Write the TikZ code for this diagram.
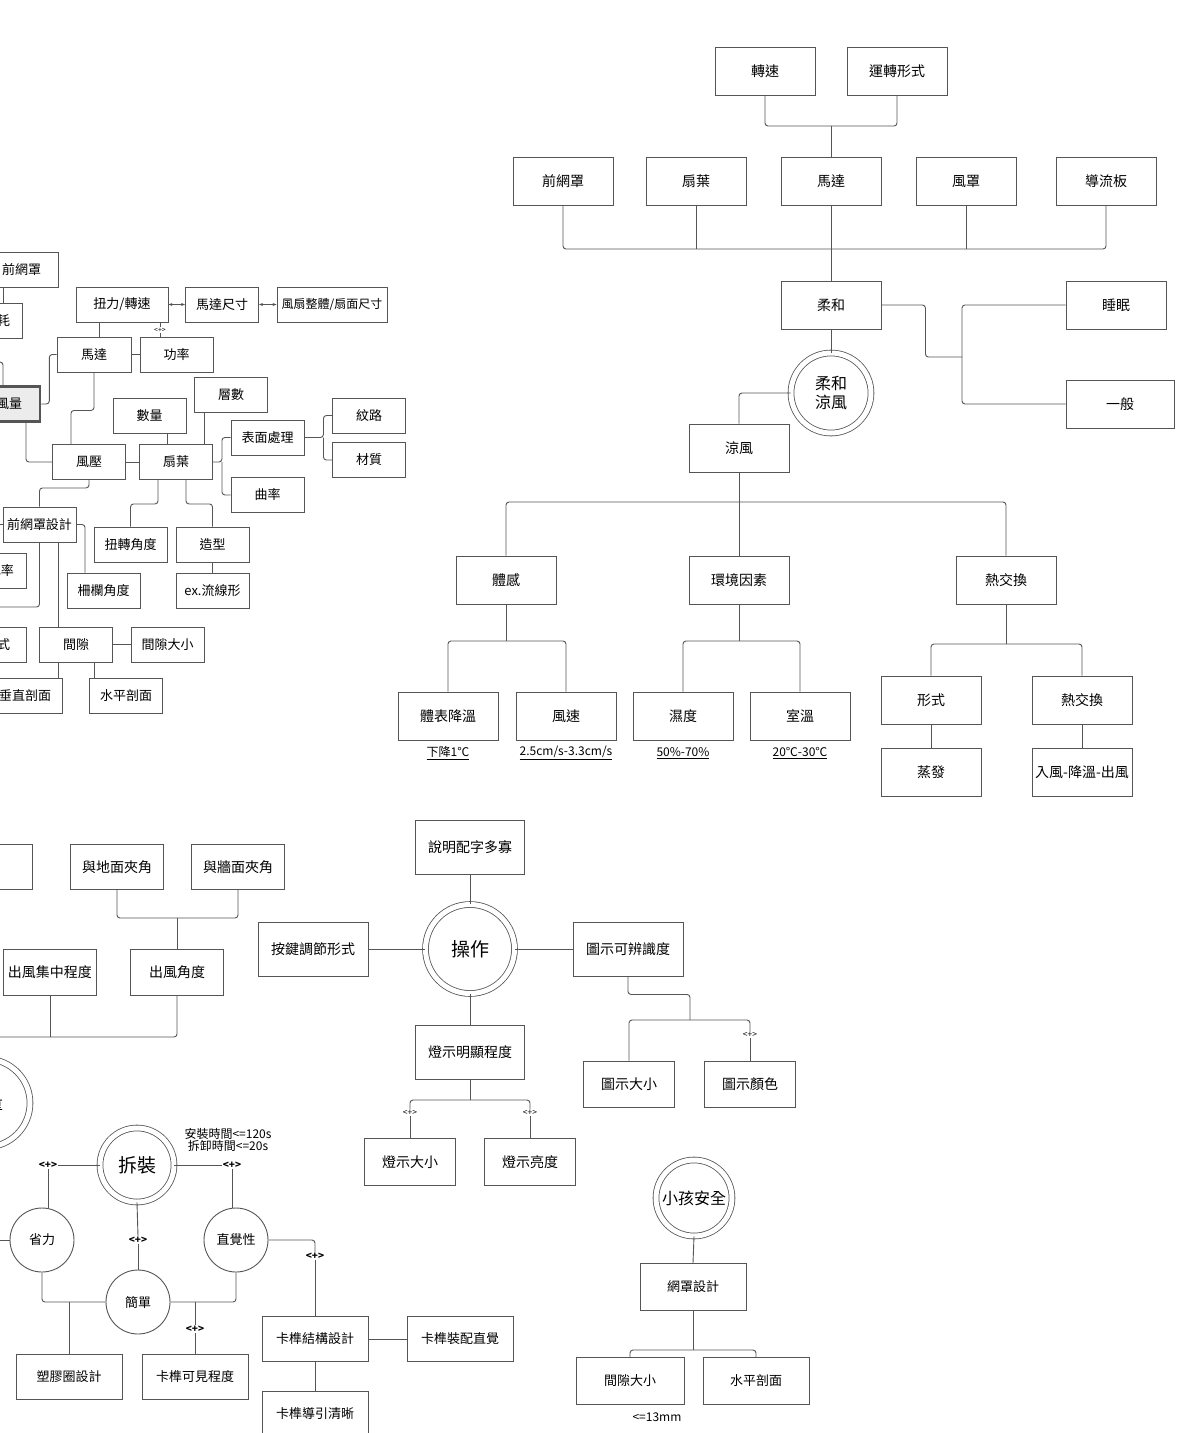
\documentclass[tikz,border=0pt]{standalone}
\usepackage{fontspec}
\setmainfont{Noto Sans CJK TC}
\usepackage{tikz}
\usetikzlibrary{arrows.meta}
\definecolor{linegray}{RGB}{85,85,85}
\definecolor{boxgray}{RGB}{236,236,236}

\begin{document}
\begin{tikzpicture}[x=1pt, y=-1pt,
    box/.style={draw=linegray, line width=0.9pt, fill=white, minimum width=100pt, minimum height=48pt, inner sep=1pt, font=\fontsize{14}{16}\selectfont},
    sbox/.style={box, minimum width=73pt, minimum height=35pt, font=\fontsize{13}{15}\selectfont},
    ring/.style={circle, draw=linegray, line width=0.8pt, double=white, double distance=5pt, inner sep=0pt, align=center},
    bub/.style={circle, draw=linegray, line width=0.9pt, fill=white, minimum size=64pt, inner sep=0pt, font=\fontsize{13}{15}\selectfont},
    link/.style={draw=linegray, line width=0.9pt, rounded corners=3pt},
    both/.style={link, {Stealth[length=4pt,width=3pt]}-{Stealth[length=4pt,width=3pt]}},
    plus/.style={inner sep=0.5pt, font=\fontsize{8.5}{9}\selectfont},
    bplus/.style={inner sep=0.5pt, font=\bfseries\fontsize{10}{11}\selectfont},
    note/.style={inner sep=1pt, font=\fontsize{12}{14}\selectfont}]
    \useasboundingbox (0,0) rectangle (1182,1433);
    \clip (0,0) rectangle (1182,1433);
    \fill[white] (0,0) rectangle (1182,1433);

    % Motor tree
    \node[box] (zs) at (765,71) {轉速};
    \node[box] (yx) at (897,71) {運轉形式};
    \node[box] (qw) at (563,181) {前網罩};
    \node[box] (sy) at (696,181) {扇葉};
    \node[box] (md) at (831,181) {馬達};
    \node[box] (fz) at (966,181) {風罩};
    \node[box] (dl) at (1106,181) {導流板};
    \coordinate (b1) at (831,126);
    \coordinate (b2) at (831,249);
    \draw[link] (zs.south) |- (b1) -| (yx.south);
    \draw[link] (b1) -- (md.north);
    \draw[link] (qw.south) |- (b2) -| (dl.south);
    \draw[link] (sy.south) -- (sy.south |- b2);
    \draw[link] (fz.south) -- (fz.south |- b2);

    % Soft wind
    \node[box] (rh) at (831,305) {柔和};
    \node[box] (sm) at (1116,305) {睡眠};
    \node[box, minimum width=108pt] (yb) at (1120,404) {一般};
    \node[ring, minimum size=80pt, font=\fontsize{16}{19}\selectfont] (rl) at (831,393) {柔和\\涼風};
    \node[box] (lf) at (739,448) {涼風};
    \coordinate (j1) at (962,357);
    \draw[link] (md.south) -- (rh.north);
    \draw[link] (rh.east) -- ++(44,0) |- (j1);
    \draw[link] (sm.west) -| (j1) |- (yb.west);
    \draw[link] (rh.south) -- (rl.north);
    \draw[link] (rl.west) -| (lf.north);

    \node[box] (tg) at (506,580) {體感};
    \node[box] (hj) at (739,580) {環境因素};
    \node[box] (rj) at (1006,580) {熱交換};
    \coordinate (b3) at (739,502);
    \draw[link] (lf.south) -- (hj.north);
    \draw[link] (tg.north) |- (b3) -| (rj.north);

    \node[box] (tb) at (448,716) {體表降溫};
    \node[box] (fs) at (566,716) {風速};
    \node[box] (sd) at (683,716) {濕度};
    \node[box] (sw) at (800,716) {室溫};
    \node[box] (xs) at (931,700) {形式};
    \node[box] (rj2) at (1082,700) {熱交換};
    \node[box] (zf) at (931,772) {蒸發};
    \node[box] (rf) at (1082,772) {入風-降溫-出風};
    \coordinate (b4) at (506,641);
    \coordinate (b5) at (739,641);
    \coordinate (b6) at (1006,644);
    \draw[link] (tg.south) -- (b4);
    \draw[link] (tb.north) |- (b4) -| (fs.north);
    \draw[link] (hj.south) -- (b5);
    \draw[link] (sd.north) |- (b5) -| (sw.north);
    \draw[link] (rj.south) -- (b6);
    \draw[link] (xs.north) |- (b6) -| (rj2.north);
    \draw[link] (xs.south) -- (zf.north);
    \draw[link] (rj2.south) -- (rf.north);

    \node[note] (v1) at (448,753) {\underline{下降1℃}};
    \node[note] (v2) at (566,753) {\underline{2.5cm/s-3.3cm/s}};
    \node[note] (v3) at (683,753) {\underline{50\%-70\%}};
    \node[note] (v4) at (800,753) {\underline{20℃-30℃}};

    % Operation
    \node[ring, minimum size=89pt, font=\fontsize{19}{21}\selectfont] (cz) at (470,949) {操作};
    \node[box, minimum width=109pt, minimum height=54pt] (sm2) at (470,847) {說明配字多寡};
    \node[box, minimum width=110pt, minimum height=54pt] (aj) at (313,949) {按鍵調節形式};
    \node[box, minimum width=110pt, minimum height=54pt] (tk) at (628,949) {圖示可辨識度};
    \node[box, minimum width=109pt, minimum height=54pt] (ds) at (470,1052) {燈示明顯程度};
    \node[box, minimum width=91pt, minimum height=47pt] (dx) at (410,1162) {燈示大小};
    \node[box, minimum width=91pt, minimum height=47pt] (dl2) at (530,1162) {燈示亮度};
    \node[plus] (p1) at (410,1113) {<+>};
    \node[plus] (p2) at (530,1113) {<+>};
    \coordinate (b7) at (470,1100);
    \draw[link] (sm2.south) -- (cz.north);
    \draw[link] (aj.east) -- (cz.west);
    \draw[link] (cz.east) -- (tk.west);
    \draw[link] (cz.south) -- (ds.north);
    \draw[link] (ds.south) -- (b7);
    \draw[link] (p1.north) |- (b7) -| (p2.north);
    \draw[link] (p1.south) -- (dx.north);
    \draw[link] (p2.south) -- (dl2.north);

    \node[box, minimum width=91pt, minimum height=46pt] (tx) at (629,1084) {圖示大小};
    \node[box, minimum width=91pt, minimum height=46pt] (ty) at (750,1084) {圖示顏色};
    \node[plus] (p3) at (750,1035) {<+>};
    \coordinate (b8) at (690,1020);
    \draw[link] (tk.south) -- ++(0,18) -| (b8);
    \draw[link] (tx.north) |- (b8) -| (p3.north);
    \draw[link] (p3.south) -- (ty.north);

    % Child safety
    \node[ring, minimum size=76pt, font=\fontsize{16}{18}\selectfont] (xh) at (694,1198) {小孩安全};
    \node[box, minimum width=106pt, minimum height=47pt, font=\fontsize{13}{15}\selectfont] (wz) at (693,1287) {網罩設計};
    \node[box, minimum width=108pt, minimum height=47pt, font=\fontsize{13}{15}\selectfont] (jx) at (630,1381) {間隙大小};
    \node[box, minimum width=106pt, minimum height=47pt, font=\fontsize{13}{15}\selectfont] (sp) at (756,1381) {水平剖面};
    \node[note] (mm) at (657,1417) {<=13mm};
    \coordinate (b9) at (693,1350);
    \draw[link] (xh.south) -- (wz.north);
    \draw[link] (wz.south) -- (b9);
    \draw[link] (jx.north) |- (b9) -| (sp.north);

    % Outlet angle
    \node[box, minimum width=102pt, minimum height=45pt] (k0) at (-19,867) {};
    \node[box, minimum width=93pt, minimum height=45pt] (dm) at (117,867) {與地面夾角};
    \node[box, minimum width=93pt, minimum height=45pt] (qm) at (238,867) {與牆面夾角};
    \node[box, minimum width=93pt, minimum height=46pt] (jz) at (50,972) {出風集中程度};
    \node[box, minimum width=93pt, minimum height=46pt] (cf) at (177,972) {出風角度};
    \node[ring, minimum size=88pt, font=\fontsize{18}{20}\selectfont] (fl) at (-14,1103) {風量};
    \coordinate (b10) at (177,918);
    \coordinate (b11) at (-10,1037);
    \draw[link] (dm.south) |- (b10) -| (qm.south);
    \draw[link] (b10) -- (cf.north);
    \draw[link] (cf.south) |- (b11);
    \draw[link] (jz.south) -- (jz.south |- b11);

    % Assembly
    \node[ring, minimum size=74pt, font=\fontsize{19}{21}\selectfont] (cj) at (137,1165) {拆裝};
    \node[note, align=center] (az) at (228,1140) {安裝時間<=120s\\[-2pt]拆卸時間<=20s};
    \node[bub] (sl) at (42,1240) {省力};
    \node[bub] (zj) at (236,1240) {直覺性};
    \node[bub] (jd) at (138,1302) {簡單};
    \node[bplus] (q1) at (48,1165) {<+>};
    \node[bplus] (q2) at (232,1165) {<+>};
    \node[bplus] (q3) at (138,1240) {<+>};
    \node[bplus] (q4) at (195,1329) {<+>};
    \node[bplus] (q5) at (315,1256) {<+>};
    \node[box, minimum width=106pt, minimum height=45pt, font=\fontsize{13}{15}\selectfont] (sj) at (69,1377) {塑膠圈設計};
    \node[box, minimum width=106pt, minimum height=45pt, font=\fontsize{13}{15}\selectfont] (kk) at (195,1377) {卡榫可見程度};
    \node[box, minimum width=106pt, minimum height=45pt, font=\fontsize{13}{15}\selectfont] (kg) at (315,1339) {卡榫結構設計};
    \node[box, minimum width=106pt, minimum height=45pt, font=\fontsize{13}{15}\selectfont] (kp) at (460,1339) {卡榫裝配直覺};
    \node[box, minimum width=106pt, minimum height=45pt, font=\fontsize{13}{15}\selectfont] (ky) at (315,1414) {卡榫導引清晰};
    \coordinate (sl0) at (-5,1240);
    \draw[link] (cj.west) -- (q1.east);
    \draw[link] (q1.south) -- (q1.south |- sl.north);
    \draw[link] (cj.east) -- (q2.west);
    \draw[link] (q2.south) -- (q2.south |- zj.north);
    \draw[link] (cj.south) -- (q3.north);
    \draw[link] (q3.south) -- (jd.north);
    \draw[link] (sl.south) |- (jd.west);
    \draw[link] (zj.south) |- (jd.east);
    \draw[link] (sj.north) -- (sj.north |- jd.west);
    \draw[link] (q4.north) -- (q4.north |- jd.east);
    \draw[link] (q4.south) -- (kk.north);
    \draw[link] (zj.east) -| (q5.north);
    \draw[link] (q5.south) -- (kg.north);
    \draw[link] (kg.east) -- (kp.west);
    \draw[link] (kg.south) -- (ky.north);
    \draw[link] (sl.west) -- (sl0);

    % Air volume
    \node[sbox] (qw2) at (21.5,269.5) {前網罩};
    \node[sbox, minimum width=50pt] (nh) at (-3,321) {能耗};
    \node[sbox, minimum width=62pt, fill=boxgray, line width=2.6pt] (fl2) at (9,404) {風量};
    \node[sbox, minimum width=92pt] (nz) at (122,304.5) {扭力/轉速};
    \node[sbox] (mc) at (222,304.5) {馬達尺寸};
    \node[sbox, minimum width=110pt, font=\fontsize{12}{14}\selectfont] (ft) at (332,304.5) {風扇整體/扇面尺寸};
    \node[sbox, minimum width=74pt] (md2) at (94,354.5) {馬達};
    \node[sbox] (gl) at (176.5,354.5) {功率};
    \node[plus, font=\fontsize{7}{7}\selectfont] (p4) at (160,330) {<+>};
    \node[sbox] (fy) at (89,462) {風壓};
    \node[sbox] (sy2) at (176,462) {扇葉};
    \node[sbox] (sl2) at (149.5,415.5) {數量};
    \node[sbox] (cs) at (231,395) {層數};
    \node[sbox] (bm) at (267.5,437.5) {表面處理};
    \node[sbox] (wl) at (369,415.5) {紋路};
    \node[sbox] (cz2) at (369,460) {材質};
    \node[sbox] (ql) at (267.5,495) {曲率};
    \node[sbox] (qs) at (39.5,524.5) {前網罩設計};
    \node[sbox] (nj) at (130.5,544.5) {扭轉角度};
    \node[sbox] (zx) at (212.5,544.5) {造型};
    \node[sbox] (zl) at (103.5,590.5) {柵欄角度};
    \node[sbox] (lx) at (212.5,590.5) {ex.流線形};
    \node[sbox, minimum width=63pt] (kl) at (-5.5,570.5) {開孔率};
    \node[sbox, minimum width=58pt] (xs2) at (-3,644.5) {形式};
    \node[sbox] (jx2) at (76,644.5) {間隙};
    \node[sbox] (jd2) at (167.5,644.5) {間隙大小};
    \node[sbox, minimum width=74pt] (cz3) at (25,695.5) {垂直剖面};
    \node[sbox] (sp2) at (126,695.5) {水平剖面};
    \coordinate (u1) at (-10,362);
    \coordinate (u2) at (-5,524.5);
    \coordinate (u3) at (-5,607);
    \draw[link] ([xshift=-18.5pt]qw2.south) -- ([xshift=6pt]nh.north);
    \draw[link] (u1) -| ([xshift=-6pt]fl2.north);
    \draw[link] (fl2.east) -- ++(8,0) |- (md2.west);
    \draw[link] ([xshift=-23pt]nz.south) -- ([xshift=5pt]md2.north);
    \draw[both] (nz.east) -- (mc.west);
    \draw[both] (mc.east) -- (ft.west);
    \draw[link] ([xshift=38pt]nz.south) -- (p4.north);
    \draw[link] (p4.south) -- (p4.south |- gl.north);
    \draw[link] (md2.east) -- (gl.west);
    \draw[link] (md2.south) -- ++(0,38) -| ([xshift=-18pt]fy.north);
    \draw[link] ([xshift=17pt]fl2.south) |- (fy.west);
    \draw[link] (fy.east) -- (sy2.west);
    \draw[link] ([xshift=17.5pt]sl2.south) -- ([xshift=-9pt]sy2.north);
    \draw[link] ([xshift=-27pt]cs.south) -- ([xshift=28pt]sy2.north);
    \draw[link] (sy2.east) -- ++(9,0) |- (bm.west);
    \draw[link] ([xshift=9pt]sy2.east) |- (ql.west);
    \draw[link] (bm.east) -- ++(19,0) |- (wl.west);
    \draw[link] ([xshift=19pt]bm.east) |- (cz2.west);
    \draw[link] (fy.south) -- ++(0,8) -| (qs.north);
    \draw[link] ([xshift=-18pt]sy2.south) -- ++(0,24) -| (nj.north);
    \draw[link] ([xshift=10pt]sy2.south) -- ++(0,24) -| (zx.north);
    \draw[link] (zx.south) -- (lx.north);
    \draw[link] (qs.west) -- (u2);
    \draw[link] (qs.east) -| ([xshift=-18.5pt]zl.north);
    \draw[link] (qs.south) |- (u3);
    \draw[link] ([xshift=18.5pt]qs.south) -- ([xshift=-18pt]jx2.north);
    \draw[link] (jx2.east) -- (jd2.west);
    \draw[link] ([xshift=-18pt]jx2.south) -- ([xshift=33pt]cz3.north);
    \draw[link] ([xshift=18pt]jx2.south) -- ([xshift=-32pt]sp2.north);
\end{tikzpicture}
\end{document}
